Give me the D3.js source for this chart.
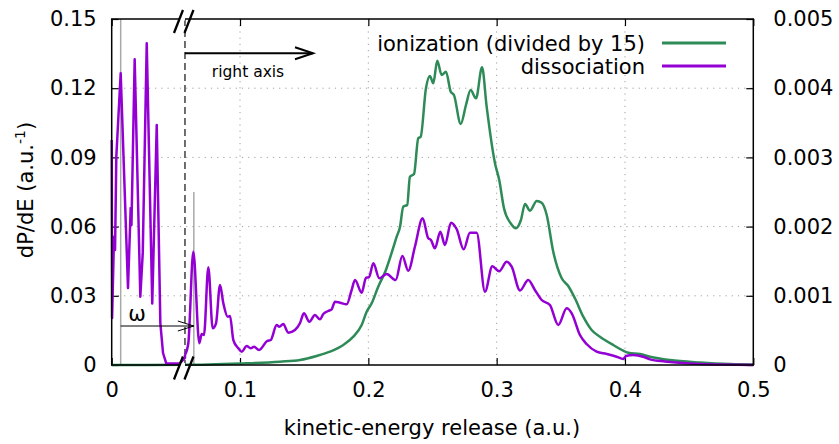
<!DOCTYPE html>
<html>
<head>
<meta charset="utf-8">
<script src="https://cdn.jsdelivr.net/npm/d3@7"></script>
<style>
  html, body { margin: 0; padding: 0; background: #fff; }
  svg { display: block; font-family: "DejaVu Sans", sans-serif; }
</style>
</head>
<body>
<svg id="chart" width="839" height="444"></svg>
<script>
// ---------------- data ----------------
const xTicks = [0, 0.1, 0.2, 0.3, 0.4, 0.5];
const yLeftTicks = [0, 0.03, 0.06, 0.09, 0.12, 0.15];
const yRightTicks = [0, 0.001, 0.002, 0.003, 0.004, 0.005];
const breakX = 0.0571;      // axis break position
const omegaX = [0.0070, 0.0640]; // grey markers for omega arrow
const omegaMarkTop = 0.0025;     // top of second grey marker (right axis)

// dissociation, low-energy part (left axis)
const dissocLeftX = [0.0000, 0.0003, 0.0018, 0.0026, 0.0036, 0.0070, 0.0127, 0.0148, 0.0154, 0.0179, 0.0223, 0.0242, 0.0273, 0.0316, 0.0351, 0.0379, 0.0400, 0.0425, 0.0530, 0.0571];
const dissocLeftY = [0.0975, 0.0204, 0.0556, 0.0499, 0.0903, 0.1265, 0.0334, 0.0681, 0.0607, 0.1325, 0.0296, 0.0486, 0.1395, 0.0267, 0.1040, 0.0182, 0.0052, 0.0007, 0.0007, 0.0031];

// dissociation, beyond the break (right axis)
const dissocRightX = [0.0571, 0.0597, 0.0636, 0.0683, 0.0701, 0.0719, 0.0753, 0.0787, 0.0813, 0.0844, 0.0870, 0.0904, 0.0922, 0.0948, 0.0987, 0.1013, 0.1052, 0.1083, 0.1109, 0.1148, 0.1212, 0.1239, 0.1286, 0.1306, 0.1337, 0.1376, 0.1428, 0.1467, 0.1498, 0.1540, 0.1584, 0.1623, 0.1649, 0.1688, 0.1714, 0.1740, 0.1779, 0.1831, 0.1870, 0.1896, 0.1948, 0.1982, 0.2005, 0.2039, 0.2085, 0.2143, 0.2213, 0.2265, 0.2311, 0.2363, 0.2423, 0.2467, 0.2488, 0.2519, 0.2561, 0.2597, 0.2644, 0.2688, 0.2743, 0.2792, 0.2844, 0.2909, 0.2966, 0.3020, 0.3078, 0.3117, 0.3182, 0.3246, 0.3298, 0.3351, 0.3415, 0.3480, 0.3546, 0.3585, 0.3649, 0.3701, 0.3779, 0.3857, 0.3935, 0.3987, 0.4008, 0.4064, 0.4142, 0.4195, 0.4312, 0.4506, 0.4740, 0.5000];
const dissocRightY = [0.000145, 0.000314, 0.001637, 0.000314, 0.000448, 0.000434, 0.001412, 0.000530, 0.000603, 0.001156, 0.000892, 0.000698, 0.000708, 0.000361, 0.000241, 0.000192, 0.000275, 0.000241, 0.000264, 0.000217, 0.000347, 0.000361, 0.000578, 0.000553, 0.000592, 0.000467, 0.000506, 0.000603, 0.000747, 0.000626, 0.000723, 0.000660, 0.000737, 0.000780, 0.000805, 0.000915, 0.000900, 0.000877, 0.001084, 0.001228, 0.001045, 0.001262, 0.001267, 0.001470, 0.001253, 0.001315, 0.001228, 0.001575, 0.001363, 0.001709, 0.002120, 0.001831, 0.001806, 0.001686, 0.001926, 0.001734, 0.002056, 0.001965, 0.001672, 0.001912, 0.001912, 0.001059, 0.001426, 0.001354, 0.001493, 0.001420, 0.001077, 0.001228, 0.001084, 0.000939, 0.000867, 0.000578, 0.000819, 0.000747, 0.000434, 0.000303, 0.000192, 0.000159, 0.000120, 0.000087, 0.000130, 0.000145, 0.000120, 0.000082, 0.000050, 0.000020, 0.000007, 0.000000];

// ionization divided by 15 (right axis)
const ionX = [0.0000, 0.0571, 0.1000, 0.1311, 0.1467, 0.1597, 0.1701, 0.1805, 0.1883, 0.1948, 0.1987, 0.2026, 0.2077, 0.2137, 0.2182, 0.2221, 0.2247, 0.2272, 0.2303, 0.2324, 0.2356, 0.2389, 0.2408, 0.2449, 0.2480, 0.2506, 0.2537, 0.2571, 0.2605, 0.2642, 0.2667, 0.2720, 0.2761, 0.2797, 0.2839, 0.2886, 0.2922, 0.2987, 0.3020, 0.3057, 0.3109, 0.3150, 0.3189, 0.3221, 0.3260, 0.3312, 0.3351, 0.3390, 0.3441, 0.3507, 0.3558, 0.3610, 0.3675, 0.3740, 0.3805, 0.3909, 0.4026, 0.4117, 0.4195, 0.4350, 0.4585, 0.4820, 0.5000];
const ionY = [0.000000, 0.000002, 0.000022, 0.000048, 0.000072, 0.000130, 0.000192, 0.000289, 0.000409, 0.000578, 0.000770, 0.000892, 0.001132, 0.001373, 0.001623, 0.001854, 0.001999, 0.002288, 0.002312, 0.002721, 0.002760, 0.003276, 0.003299, 0.003999, 0.004176, 0.004071, 0.004397, 0.004191, 0.004238, 0.003949, 0.003902, 0.003483, 0.003757, 0.003974, 0.003854, 0.004302, 0.003733, 0.002915, 0.002673, 0.002264, 0.002048, 0.001975, 0.002095, 0.002327, 0.002230, 0.002370, 0.002345, 0.002168, 0.001637, 0.001253, 0.001142, 0.000964, 0.000698, 0.000506, 0.000409, 0.000289, 0.000178, 0.000159, 0.000120, 0.000072, 0.000036, 0.000014, 0.000007];

const seriesNames = ["ionization (divided by 15)", "dissociation"];
const seriesColors = ["#2e8b57", "#9400d3"];

// ---------------- layout ----------------
const L = 111.7, R = 753.3, T = 19, B = 365;
const FS = 21;
const svg = d3.select("#chart");
const x = d3.scaleLinear().domain([0, 0.5]).range([L, R]);
const yL = d3.scaleLinear().domain([0, 0.15]).range([B, T]);
const yR = d3.scaleLinear().domain([0, 0.005]).range([B, T]);

const fmt = (n) => d => d === 0 ? "0" : d.toFixed(n);

// grid
const grid = svg.append("g").attr("stroke", "#a0a0a0").attr("stroke-width", 1).attr("stroke-dasharray", "1.2,5");
yLeftTicks.slice(1, -1).forEach(v => {
  grid.append("line").attr("x1", L).attr("x2", R).attr("y1", yL(v)).attr("y2", yL(v));
});
xTicks.slice(1, -1).forEach(v => {
  grid.append("line").attr("x1", x(v)).attr("x2", x(v)).attr("y1", T).attr("y2", B);
});

// axes (inward ticks)
const tickLen = 7;
function styleAxis(g) {
  g.select(".domain").remove();
  g.selectAll(".tick line").attr("stroke", "#000").attr("stroke-width", 1.2);
  g.selectAll(".tick text").attr("font-size", FS).attr("font-family", "DejaVu Sans, sans-serif").attr("fill", "#000");
}
svg.append("g").attr("transform", `translate(0,${B})`)
  .call(d3.axisBottom(x).tickValues(xTicks).tickFormat(fmt(1)).tickSizeInner(-tickLen).tickSizeOuter(0).tickPadding(17))
  .call(styleAxis);
svg.append("g").attr("transform", `translate(0,${T})`)
  .call(d3.axisTop(x).tickValues(xTicks).tickFormat("").tickSizeInner(-tickLen).tickSizeOuter(0))
  .call(styleAxis);
svg.append("g").attr("transform", `translate(${L},0)`)
  .call(d3.axisLeft(yL).tickValues(yLeftTicks).tickFormat(fmt(2)).tickSizeInner(-tickLen).tickSizeOuter(0).tickPadding(15))
  .call(styleAxis);
svg.append("g").attr("transform", `translate(${R},0)`)
  .call(d3.axisRight(yR).tickValues(yRightTicks).tickFormat(fmt(3)).tickSizeInner(-tickLen).tickSizeOuter(0).tickPadding(20))
  .call(styleAxis);

// grey omega markers
svg.append("line").attr("x1", x(omegaX[0])).attr("x2", x(omegaX[0])).attr("y1", T).attr("y2", B)
  .attr("stroke", "#a9a9a9").attr("stroke-width", 1.5);
svg.append("line").attr("x1", x(omegaX[1])).attr("x2", x(omegaX[1])).attr("y1", yR(omegaMarkTop)).attr("y2", B)
  .attr("stroke", "#a9a9a9").attr("stroke-width", 1.5);

// break dashed line
svg.append("line").attr("x1", x(breakX)).attr("x2", x(breakX)).attr("y1", T).attr("y2", B)
  .attr("stroke", "#404040").attr("stroke-width", 1.5).attr("stroke-dasharray", "7,4");

// curves
const ionPts = ionX.map((v, i) => [x(v), yR(ionY[i])]);
const dlPts = dissocLeftX.map((v, i) => [x(v), yL(dissocLeftY[i])]);
const drPts = dissocRightX.map((v, i) => [x(v), yR(dissocRightY[i])]);
const lineLin = d3.line();
const lineSmooth = d3.line().curve(d3.curveMonotoneX);

svg.append("path").attr("d", lineSmooth(ionPts)).attr("fill", "none")
  .attr("stroke", seriesColors[0]).attr("stroke-width", 2.5).attr("stroke-linejoin", "round");
svg.append("path").attr("d", lineLin(dlPts.concat([drPts[0]]))).attr("fill", "none")
  .attr("stroke", seriesColors[1]).attr("stroke-width", 2.5).attr("stroke-linejoin", "round");
svg.append("path").attr("d", lineSmooth(drPts)).attr("fill", "none")
  .attr("stroke", seriesColors[1]).attr("stroke-width", 2.5).attr("stroke-linejoin", "round");

// border
svg.append("rect").attr("x", L).attr("y", T).attr("width", R - L).attr("height", B - T)
  .attr("fill", "none").attr("stroke", "#000").attr("stroke-width", 1.5);

// break marks
const bx = x(breakX);
[T + 2.5, B + 3].forEach(yy => {
  svg.append("rect").attr("x", bx - 5).attr("y", yy - 5).attr("width", 5).attr("height", 4).attr("fill", "#fff");
  [-6.5, 4].forEach(off => {
    svg.append("line")
      .attr("x1", bx + off - 4.5).attr("y1", yy + 11.5)
      .attr("x2", bx + off + 4.5).attr("y2", yy - 11.5)
      .attr("stroke", "#000").attr("stroke-width", 2.3);
  });
});

// omega arrow
const ay = 326;
const ax1 = x(omegaX[0]), ax2 = x(omegaX[1]);
svg.append("line").attr("x1", ax1).attr("x2", ax2).attr("y1", ay).attr("y2", ay).attr("stroke", "#000").attr("stroke-width", 1);
svg.append("path").attr("d", `M${ax2 - 16},${ay - 5}L${ax2},${ay}L${ax2 - 16},${ay + 5}`)
  .attr("fill", "none").attr("stroke", "#000").attr("stroke-width", 1);
svg.append("text").attr("x", 137).attr("y", 321).attr("text-anchor", "middle")
  .attr("font-size", FS).text("ω");

// right axis arrow
const ry = 53.3;
const rx2 = 313;
svg.append("line").attr("x1", bx).attr("x2", rx2).attr("y1", ry).attr("y2", ry).attr("stroke", "#000").attr("stroke-width", 2);
svg.append("path").attr("d", `M${rx2 - 18},${ry - 6}L${rx2},${ry}L${rx2 - 18},${ry + 6}`)
  .attr("fill", "none").attr("stroke", "#000").attr("stroke-width", 2);
svg.append("text").attr("x", 248).attr("y", 77).attr("text-anchor", "middle")
  .attr("font-size", 15.5).text("right axis");

// legend
seriesNames.forEach((name, i) => {
  const ly = 43 + i * 23;
  svg.append("text").attr("x", 645).attr("y", ly + 7.5).attr("text-anchor", "end")
    .attr("font-size", FS).text(name);
  svg.append("line").attr("x1", 662).attr("x2", 726).attr("y1", ly).attr("y2", ly)
    .attr("stroke", seriesColors[i]).attr("stroke-width", 3);
});

// axis titles
svg.append("text").attr("x", 432).attr("y", 435).attr("text-anchor", "middle")
  .attr("font-size", FS).text("kinetic-energy release (a.u.)");
const yt = svg.append("text").attr("transform", "translate(33,190) rotate(-90)")
  .attr("text-anchor", "middle").attr("font-size", FS);
yt.append("tspan").text("dP/dE (a.u.");
yt.append("tspan").attr("dy", -8).attr("font-size", 14).text("-1");
yt.append("tspan").attr("dy", 8).text(")");
</script>
</body>
</html>
